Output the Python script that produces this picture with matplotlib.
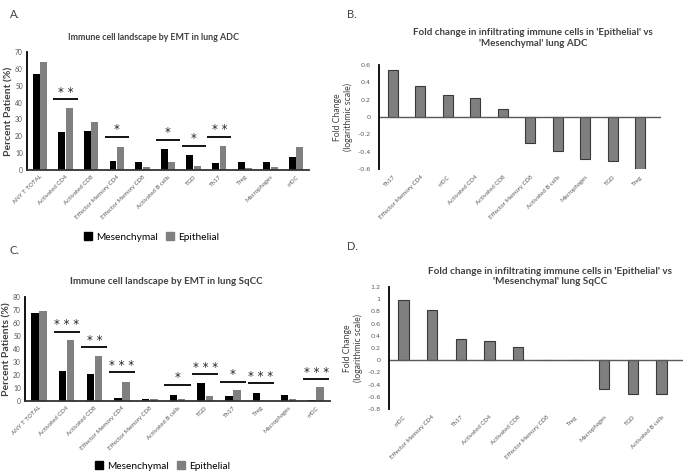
import numpy as np
import matplotlib
matplotlib.use("Agg")
from matplotlib import pyplot as plt

plt.rcParams['font.family'] = ['Lato', 'DejaVu Sans']
plt.rcParams['axes.unicode_minus'] = False

# panel A / C categories (same order for both)
cells = ["ANY T TOTAL", "Activated CD4", "Activated CD8", "Effector Memory CD4",
         "Effector Memory CD8", "Activated B cells", "TGD", "Th17", "Treg",
         "Macrophages", "mDC"]

adc_mes = [57, 22.5, 23, 5.5, 4.5, 12.5, 9, 4, 4.5, 5, 7.5]
adc_epi = [64, 37, 28.5, 13.5, 2, 5, 2.5, 14, 1, 1.5, 13.5]
# significance: (category index, line height, stars)
adc_sig = [(1, 42, "**"), (3, 19.6, "*"), (5, 18, "*"), (6, 14.3, "*"), (7, 19.8, "**")]

sqcc_mes = [68, 23, 21, 2, 1.5, 5, 13.5, 4, 6.5, 5, 1]
sqcc_epi = [69.5, 47, 35, 14.5, 1.5, 1.5, 4, 8.5, 0, 1.5, 10.5]
sqcc_sig = [(1, 53.3, "***"), (2, 41.3, "**"), (3, 22, "***"), (5, 12.3, "*"),
            (6, 20.5, "***"), (7, 14.9, "*"), (8, 13.6, "***"), (10, 16.7, "***")]

# fold change panels
adc_fc_labels = ["Th17", "Effector Memory CD4", "mDC", "Activated CD4", "Activated CD8",
                 "Effector Memory CD8", "Activated B cells", "Macrophages", "TGD", "Treg"]
adc_fc = [0.54, 0.36, 0.25, 0.22, 0.09, -0.30, -0.39, -0.48, -0.51, -0.61]

sqcc_fc_labels = ["mDC", "Effector Memory CD4", "Th17", "Activated CD4", "Activated CD8",
                  "Effector Memory CD8", "Treg", "Macrophages", "TGD", "Activated B cells"]
sqcc_fc = [0.98, 0.82, 0.35, 0.31, 0.21, 0.0, 0.0, -0.47, -0.55, -0.56]

W, H = 685, 474
GREY = "#595959"
TXT = "#404040"


def px_axes(fig, x0, y0, x1, y1):
    return fig.add_axes([x0 / W, 1 - y1 / H, (x1 - x0) / W, (y1 - y0) / H])


def percent_panel(ax, mes, epi, sig, ymax, ylabel, title, tsize, tx):
    x = np.arange(len(cells))
    w = 0.27
    ax.bar(x - w / 2 - 0.01, mes, w, color="black")
    ax.bar(x + w / 2 + 0.01, epi, w, color="#808080")
    for i, h, s in sig:
        ax.plot([i - 0.47, i + 0.47], [h, h], color="black", lw=1.3, solid_capstyle="butt")
        ax.text(i, h + ymax * 0.005, " ".join(s), ha="center", va="bottom",
                fontsize=8.5, color="#222222", family="DejaVu Sans")
    ax.set_xlim(-0.5, len(cells) - 0.5)
    ax.set_ylim(0, ymax)
    ax.set_yticks(np.arange(0, ymax + 1, 10))
    ax.set_xticks(x)
    ax.set_xticklabels(cells, rotation=45, ha="right", rotation_mode="anchor",
                       fontsize=4.4, color=GREY)
    ax.tick_params(axis="y", labelsize=4.8, labelcolor=GREY, length=0, pad=3)
    ax.tick_params(axis="x", length=0, pad=3)
    for s in ["top", "right"]:
        ax.spines[s].set_visible(False)
    ax.spines["left"].set_linewidth(1.3)
    ax.spines["bottom"].set_linewidth(1.3)
    ax.spines["bottom"].set_color("#333333")
    ax.set_ylabel(ylabel, fontsize=7.5, fontweight="bold", color=TXT, labelpad=1)
    ax.set_title(title, fontsize=tsize, fontweight="bold", color=TXT, pad=9, x=tx)


def fold_panel(ax, labels, vals, ylo, yhi, title, pad, tsize, tx):
    x = np.arange(len(labels))
    ax.bar(x, vals, 0.36, color="#7f7f7f", edgecolor="#3a3a3a", lw=0.8)
    ax.axhline(0, color="#595959", lw=1.0)
    ax.set_xlim(-0.5, len(labels) - 0.25)
    ax.set_ylim(ylo, yhi)
    ticks = np.round(np.arange(ylo, yhi + 0.01, 0.2), 1)
    ax.set_yticks(ticks)
    ax.set_yticklabels(["0" if t == 0 else ("%g" % t).replace("-", "\u2013") for t in ticks],
                       family="DejaVu Sans")
    ax.set_xticks(x)
    ax.set_xticklabels(labels, rotation=45, ha="right", rotation_mode="anchor",
                       fontsize=4.4, color=GREY)
    ax.tick_params(axis="y", labelsize=4.6, labelcolor=GREY, length=0, pad=6)
    ax.tick_params(axis="x", length=0, pad=4)
    for s in ["top", "right", "bottom"]:
        ax.spines[s].set_visible(False)
    ax.spines["left"].set_linewidth(1.3)
    ax.set_ylabel("Fold Change\n(logarithmic scale)", fontsize=6.2, color=TXT, labelpad=3)
    ax.set_title(title, fontsize=tsize, fontweight="bold", color=TXT, pad=pad, x=tx)


fig = plt.figure(figsize=(W / 100, H / 100), dpi=100)

axA = px_axes(fig, 27, 52, 309, 170)
percent_panel(axA, adc_mes, adc_epi, adc_sig, 70, "Percent Patient (%)",
              "Immune cell landscape by EMT in lung ADC", 6.4, 0.447)

axB = px_axes(fig, 379, 65, 661, 169)
fold_panel(axB, adc_fc_labels, adc_fc, -0.6, 0.6,
           "Fold change in infiltrating immune cells in 'Epithelial' vs\n'Mesenchymal' lung ADC",
           14, 7.0, 0.546)

axC = px_axes(fig, 25, 297, 330, 401)
percent_panel(axC, sqcc_mes, sqcc_epi, sqcc_sig, 80, "Percent Patients (%)",
              "Immune cell landscape by EMT in lung SqCC", 7.0, 0.462)

axD = px_axes(fig, 389, 287, 683, 409)
fold_panel(axD, sqcc_fc_labels, sqcc_fc, -0.8, 1.2,
           "Fold change in infiltrating immune cells in 'Epithelial' vs\n'Mesenchymal' lung SqCC",
           2, 7.2, 0.547)

# legends
for ax, y, cx in [(axA, 237, 152), (axC, 466, 163)]:
    h1 = plt.Rectangle((0, 0), 1, 1, color="black")
    h2 = plt.Rectangle((0, 0), 1, 1, color="#808080")
    fig.legend([h1, h2], ["Mesenchymal", "Epithelial"], loc="center",
               bbox_to_anchor=(cx / W, 1 - y / H), ncol=2, frameon=False,
               fontsize=7.3, handlelength=0.7, handleheight=0.7, handletextpad=0.5,
               columnspacing=0.8, labelcolor="black")

for lab, x, y in [("A.", 10, 14), ("B.", 347, 14), ("C.", 10, 250), ("D.", 347, 247)]:
    fig.text(x / W, 1 - y / H, lab, fontsize=8, color=TXT, va="center")

fig.savefig("out.png", dpi=100)
